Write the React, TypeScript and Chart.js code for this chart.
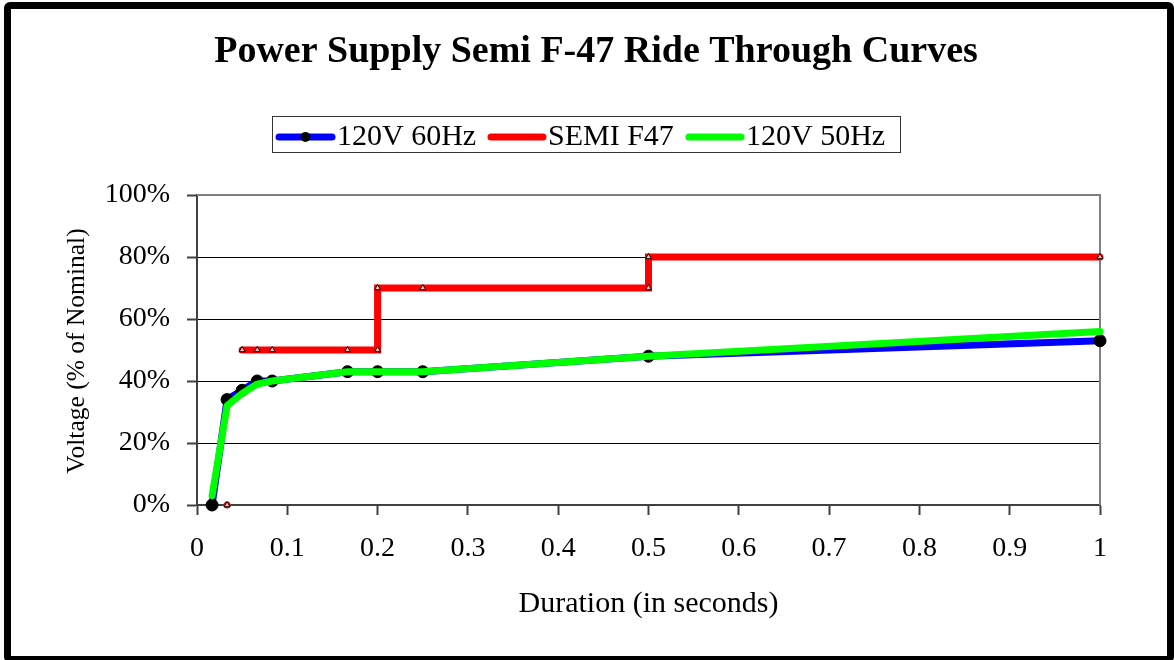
import React, { useEffect, useRef } from "react";
import { Chart, registerables } from "chart.js";

Chart.register(...registerables);

const TITLE = "Power Supply Semi F-47 Ride Through Curves";
const X_TITLE = "Duration (in seconds)";
const Y_TITLE = "Voltage (% of Nominal)";
const SERIES_NAMES = ["120V 60Hz", "SEMI F47", "120V 50Hz"];

// Durations in seconds
const ridX = [0.0167, 0.0333, 0.05, 0.0667, 0.0833, 0.1667, 0.2, 0.25, 0.5, 1];
// 120V 60Hz voltage (% of nominal)
const v60 = [0, 34, 37, 40, 40, 43, 43, 43, 48, 53];
// 120V 50Hz voltage (% of nominal)
const v50 = [3, 32, 36, 39, 40, 43, 43, 43, 48, 56];
// SEMI F47 curve (null = break in the line)
const semiX = [0.0333, 0.04, 0.05, 0.0667, 0.0833, 0.1667, 0.2, 0.2, 0.25, 0.5, 0.5, 1];
const semiY = [0, null, 50, 50, 50, 50, 50, 70, 70, 70, 80, 80];

const yTickValues = [0, 20, 40, 60, 80, 100];

const FONT = '"Liberation Serif", "Times New Roman", serif';

const toPoints = (xs: number[], ys: (number | null)[]) =>
  xs.map((x, i) => ({ x, y: ys[i] }));

const decorPlugin = {
  id: "decor",
  beforeDatasetsDraw(chart: any) {
    const { ctx, chartArea } = chart;
    ctx.save();
    ctx.strokeStyle = "#808080";
    ctx.lineWidth = 2;
    ctx.beginPath();
    ctx.moveTo(chartArea.left, chartArea.top);
    ctx.lineTo(chartArea.right, chartArea.top);
    ctx.lineTo(chartArea.right, chartArea.bottom);
    ctx.stroke();
    ctx.restore();
  },
  afterDraw(chart: any) {
    const { ctx, chartArea } = chart;
    ctx.save();
    // Title
    ctx.fillStyle = "#000";
    ctx.font = `bold 38px ${FONT}`;
    ctx.textAlign = "center";
    ctx.textBaseline = "middle";
    ctx.fillText(TITLE, 596, 52);

    // Legend box
    ctx.strokeStyle = "#333";
    ctx.lineWidth = 1;
    ctx.strokeRect(272.5, 116.5, 628, 36);
    const items = [
      { color: "#0000ff", x0: 279, x1: 332, tx: 337, dot: true },
      { color: "#ff0000", x0: 491, x1: 543, tx: 548, dot: false },
      { color: "#00ff00", x0: 689, x1: 741, tx: 746, dot: false },
    ];
    const ly = 137;
    ctx.lineCap = "round";
    items.forEach((it, i) => {
      ctx.strokeStyle = it.color;
      ctx.lineWidth = 7;
      ctx.beginPath();
      ctx.moveTo(it.x0, ly);
      ctx.lineTo(it.x1, ly);
      ctx.stroke();
      if (it.dot) {
        ctx.fillStyle = "#000";
        ctx.beginPath();
        ctx.arc((it.x0 + it.x1) / 2, ly, 5, 0, Math.PI * 2);
        ctx.fill();
      }
      ctx.fillStyle = "#000";
      ctx.font = `30px ${FONT}`;
      ctx.textAlign = "left";
      ctx.textBaseline = "middle";
      ctx.fillText(SERIES_NAMES[i], it.tx, ly);
    });

    // Axis titles
    ctx.font = `30px ${FONT}`;
    ctx.textAlign = "center";
    ctx.textBaseline = "middle";
    ctx.fillText(X_TITLE, (chartArea.left + chartArea.right) / 2, 604);

    ctx.save();
    ctx.translate(77, 351);
    ctx.rotate(-Math.PI / 2);
    ctx.font = `25.5px ${FONT}`;
    ctx.fillText(Y_TITLE, 0, 0);
    ctx.restore();

    ctx.restore();
  },
};

export default function App() {
  const canvasRef = useRef<HTMLCanvasElement | null>(null);

  useEffect(() => {
    const canvas = canvasRef.current;
    if (!canvas) return;
    const chart = new Chart(canvas, {
      type: "line",
      data: {
        datasets: [
          {
            label: SERIES_NAMES[0],
            data: toPoints(ridX, v60),
            borderColor: "#0000ff",
            backgroundColor: "#000",
            borderWidth: 7,
            pointRadius: 6,
            pointBackgroundColor: "#000",
            pointBorderColor: "#000",
            pointBorderWidth: 1,
            borderCapStyle: "round",
            borderJoinStyle: "round",
            tension: 0,
            clip: false,
            order: 3,
          } as any,
          {
            label: SERIES_NAMES[1],
            data: toPoints(semiX, semiY),
            borderColor: "#ff0000",
            backgroundColor: "#ff0000",
            borderWidth: 7,
            pointStyle: "triangle",
            pointRadius: 3.5,
            pointBackgroundColor: "rgba(255,255,255,0.7)",
            pointBorderColor: "#000",
            pointBorderWidth: 1,
            borderCapStyle: "round",
            borderJoinStyle: "miter",
            spanGaps: false,
            tension: 0,
            clip: false,
            order: 2,
          } as any,
          {
            label: SERIES_NAMES[2],
            data: toPoints(ridX, v50),
            borderColor: "#00ff00",
            backgroundColor: "#00ff00",
            borderWidth: 7,
            pointRadius: 0,
            borderCapStyle: "round",
            borderJoinStyle: "round",
            tension: 0,
            clip: false,
            order: 1,
          } as any,
        ],
      },
      options: {
        animation: false,
        responsive: false,
        maintainAspectRatio: false,
        layout: { padding: { left: 0, top: 195, right: 74, bottom: 0 } },
        plugins: {
          legend: { display: false },
          title: { display: false },
          tooltip: { enabled: false },
        },
        events: [],
        scales: {
          x: {
            type: "linear",
            min: 0,
            max: 1,
            ticks: {
              stepSize: 0.1,
              color: "#000",
              font: { family: FONT, size: 28 },
              padding: 17,
              maxRotation: 0,
              autoSkip: false,
              callback: (v: any) => String(Number(Number(v).toFixed(1))),
            },
            grid: {
              drawOnChartArea: false,
              drawTicks: true,
              tickLength: 10,
              tickColor: "#404040",
              tickWidth: 2,
            },
            border: { display: true, color: "#404040", width: 2 },
            afterFit: (scale: any) => {
              scale.height = 155;
            },
          },
          y: {
            type: "linear",
            min: 0,
            max: 100,
            afterBuildTicks: (scale: any) => {
              scale.ticks = yTickValues.map((value) => ({ value }));
            },
            ticks: {
              color: "#000",
              font: { family: FONT, size: 28 },
              padding: 17,
              callback: (v: any) => `${v}%`,
            },
            grid: {
              color: "#000",
              lineWidth: 1,
              drawTicks: true,
              tickLength: 10,
              tickColor: "#404040",
              tickWidth: 2,
            },
            border: { display: true, color: "#404040", width: 2 },
            afterFit: (scale: any) => {
              scale.width = 197;
            },
          },
        },
      } as any,
      plugins: [decorPlugin],
    });
    return () => chart.destroy();
  }, []);

  return (
    <div
      style={{
        position: "absolute",
        left: 0,
        top: 0,
        width: 1174,
        height: 660,
        background: "#fff",
        overflow: "hidden",
      }}
    >
      <canvas
        ref={canvasRef}
        width={1174}
        height={660}
        style={{ display: "block", width: 1174, height: 660 }}
      />
      <div
        style={{
          position: "absolute",
          left: 4,
          top: 2,
          width: 1170,
          height: 661,
          border: "7px solid #000",
          borderRadius: 6,
          boxSizing: "border-box",
          pointerEvents: "none",
        }}
      />
    </div>
  );
}
